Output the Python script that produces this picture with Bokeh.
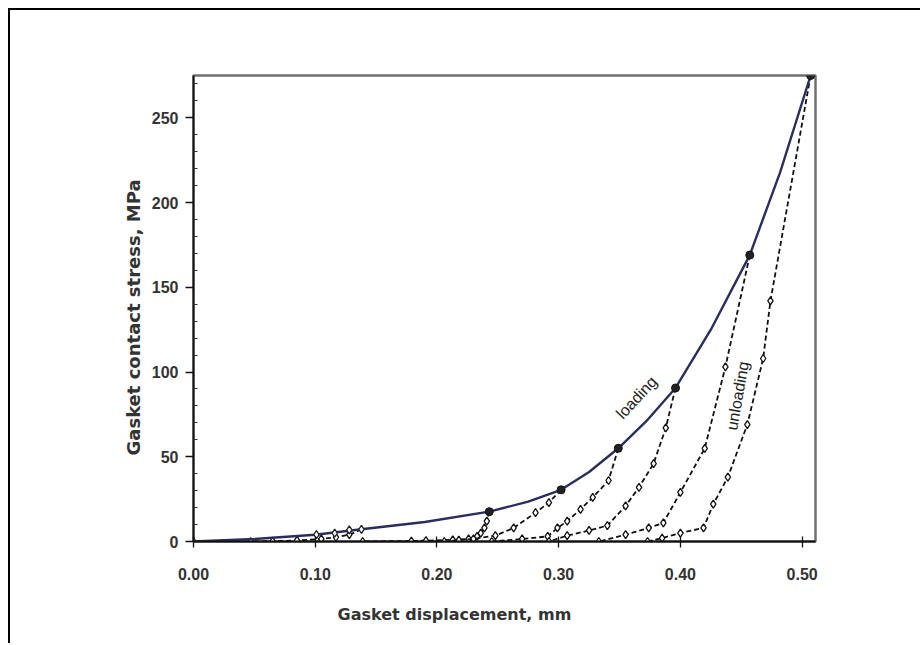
from bokeh.plotting import figure
from bokeh.models import FixedTicker, Range1d, Label, Title
from bokeh.embed import file_html
from bokeh.resources import INLINE
import math

# ---- data ----
x_ticks = [0.0, 0.1, 0.2, 0.3, 0.4, 0.5]
x_tick_labels = ["0.00", "0.10", "0.20", "0.30", "0.40", "0.50"]
y_ticks = [0, 50, 100, 150, 200, 250]
y_minor = [10, 20, 30, 40, 60, 70, 80, 90, 110, 120, 130, 140, 160, 170, 180, 190, 210, 220, 230, 240, 260, 270]

# loading curve (solid)
loading_x = [0.0, 0.05, 0.10, 0.138, 0.19, 0.243, 0.275, 0.302, 0.325, 0.349, 0.372, 0.396, 0.425, 0.457, 0.482, 0.507]
loading_y = [0.0, 1.5, 4.0, 7.2, 11.5, 17.6, 23.5, 30.5, 41.0, 55.0, 71.0, 90.6, 125.0, 169.0, 218.0, 275.0]
# loading measurement points
load_pts_x = [0.243, 0.302, 0.349, 0.396, 0.457, 0.507]
load_pts_y = [17.6, 30.5, 55.0, 90.6, 169.0, 275.0]
load_small_x = [0.0, 0.101, 0.116, 0.128, 0.138]
load_small_y = [0.0, 4.0, 5.0, 6.8, 7.2]

# unloading curves (dashed)
u1_x = [0.138, 0.128, 0.117, 0.105, 0.085, 0.065, 0.047]
u1_y = [7.2, 4.0, 2.5, 1.5, 0.6, 0.2, 0.0]
u2_x = [0.243, 0.241, 0.239, 0.236, 0.233, 0.226, 0.213, 0.191, 0.179, 0.139]
u2_y = [17.6, 12.0, 8.0, 5.0, 3.0, 1.5, 1.0, 0.5, 0.3, 0.0]
u3_x = [0.302, 0.292, 0.281, 0.263, 0.248, 0.230, 0.218, 0.206]
u3_y = [30.5, 23.0, 17.0, 8.0, 3.5, 1.5, 0.8, 0.0]
u4_x = [0.349, 0.341, 0.328, 0.318, 0.307, 0.299, 0.291, 0.270, 0.245]
u4_y = [55.0, 36.0, 26.0, 19.0, 12.0, 8.0, 3.0, 1.5, 0.0]
u5_x = [0.396, 0.388, 0.378, 0.366, 0.355, 0.340, 0.325, 0.307, 0.292]
u5_y = [90.6, 67.0, 46.0, 32.0, 21.0, 9.4, 6.5, 3.5, 0.0]
u6_x = [0.457, 0.437, 0.420, 0.400, 0.386, 0.374, 0.355, 0.333]
u6_y = [169.0, 103.0, 55.0, 29.0, 11.0, 8.0, 4.0, 0.0]
u7_x = [0.507, 0.474, 0.468, 0.455, 0.439, 0.427, 0.419, 0.400, 0.385, 0.373]
u7_y = [275.0, 142.0, 108.0, 69.0, 38.0, 22.0, 8.0, 5.0, 2.0, 0.0]
unloading = [(u1_x, u1_y), (u2_x, u2_y), (u3_x, u3_y), (u4_x, u4_y),
             (u5_x, u5_y), (u6_x, u6_y), (u7_x, u7_y)]

x_title = "Gasket displacement, mm"
y_title = "Gasket contact stress, MPa"

FONT = "Liberation Sans"
TFONT = "DejaVu Sans"

p = figure(frame_width=622, frame_height=466,
           min_border_left=183, min_border_right=105,
           min_border_top=65, min_border_bottom=99,
           x_range=Range1d(0, 0.511), y_range=Range1d(0, 275),
           output_backend="svg", toolbar_location=None,
           background_fill_color="white", border_fill_color="white")
p.styles = {"margin-top": "8px", "margin-left": "8px",
            "border-top": "2px solid #000", "border-left": "2px solid #000"}

p.grid.visible = False
p.outline_line_color = "#707070"
p.outline_line_width = 2.5

# dashed unloading curves
for ux, uy in unloading:
    p.line(ux, uy, line_color="#111111", line_width=1.8, line_dash="5 3")
    p.scatter(ux[1:], uy[1:], marker="diamond", size=8, fill_color="white",
              line_color="#111111", line_width=1.3)

# loading curve
p.line(loading_x, loading_y, line_color="#2b2d5e", line_width=2.4)
p.scatter(load_small_x, load_small_y, marker="diamond", size=8, fill_color="white",
          line_color="#222222", line_width=1.3)
p.scatter(load_pts_x, load_pts_y, marker="circle", size=8, fill_color="#222222",
          line_color="#111111", line_width=1)

# in-plot annotations
p.add_layout(Label(x=0.364, y=85, text="loading", angle=math.radians(47),
                   text_align="center", text_baseline="middle",
                   text_font=FONT, text_font_size="16px", text_color="#222222"))
p.add_layout(Label(x=0.447, y=86, text="unloading", angle=math.radians(80),
                   text_align="center", text_baseline="middle",
                   text_font=FONT, text_font_size="16px", text_color="#222222"))

# axis titles as side titles, positioned like the reference
p.add_layout(Title(text=x_title, align="left", offset=144, standoff=40,
                   text_font=TFONT, text_font_style="bold", text_font_size="16px",
                   text_color="#333333"), "below")
p.add_layout(Title(text=y_title, align="left", offset=86, standoff=9,
                   text_font=TFONT, text_font_style="bold", text_font_size="18px",
                   text_color="#333333"), "left")

# axes
xa = p.xaxis[0]
xa.ticker = FixedTicker(ticks=x_ticks)
xa.major_label_overrides = {t: s for t, s in zip(x_ticks, x_tick_labels)}
xa.major_tick_in = 5
xa.major_tick_out = 6
xa.major_label_standoff = 20

ya = p.yaxis[0]
ya.ticker = FixedTicker(ticks=y_ticks, minor_ticks=y_minor)
ya.major_tick_in = 0
ya.major_tick_out = 8
ya.minor_tick_in = 4
ya.minor_tick_out = 0
ya.major_label_standoff = 7

for ax in (xa, ya):
    ax.axis_line_color = "#111111"
    ax.axis_line_width = 1.8
    ax.major_tick_line_color = "#111111"
    ax.major_tick_line_width = 1.3
    ax.major_label_text_font = FONT
    ax.major_label_text_font_style = "bold"
    ax.major_label_text_font_size = "16px"
    ax.major_label_text_color = "#333333"
xa.minor_tick_line_color = None
ya.minor_tick_line_color = "#333333"

open("out.html", "w").write(file_html(p, INLINE))
